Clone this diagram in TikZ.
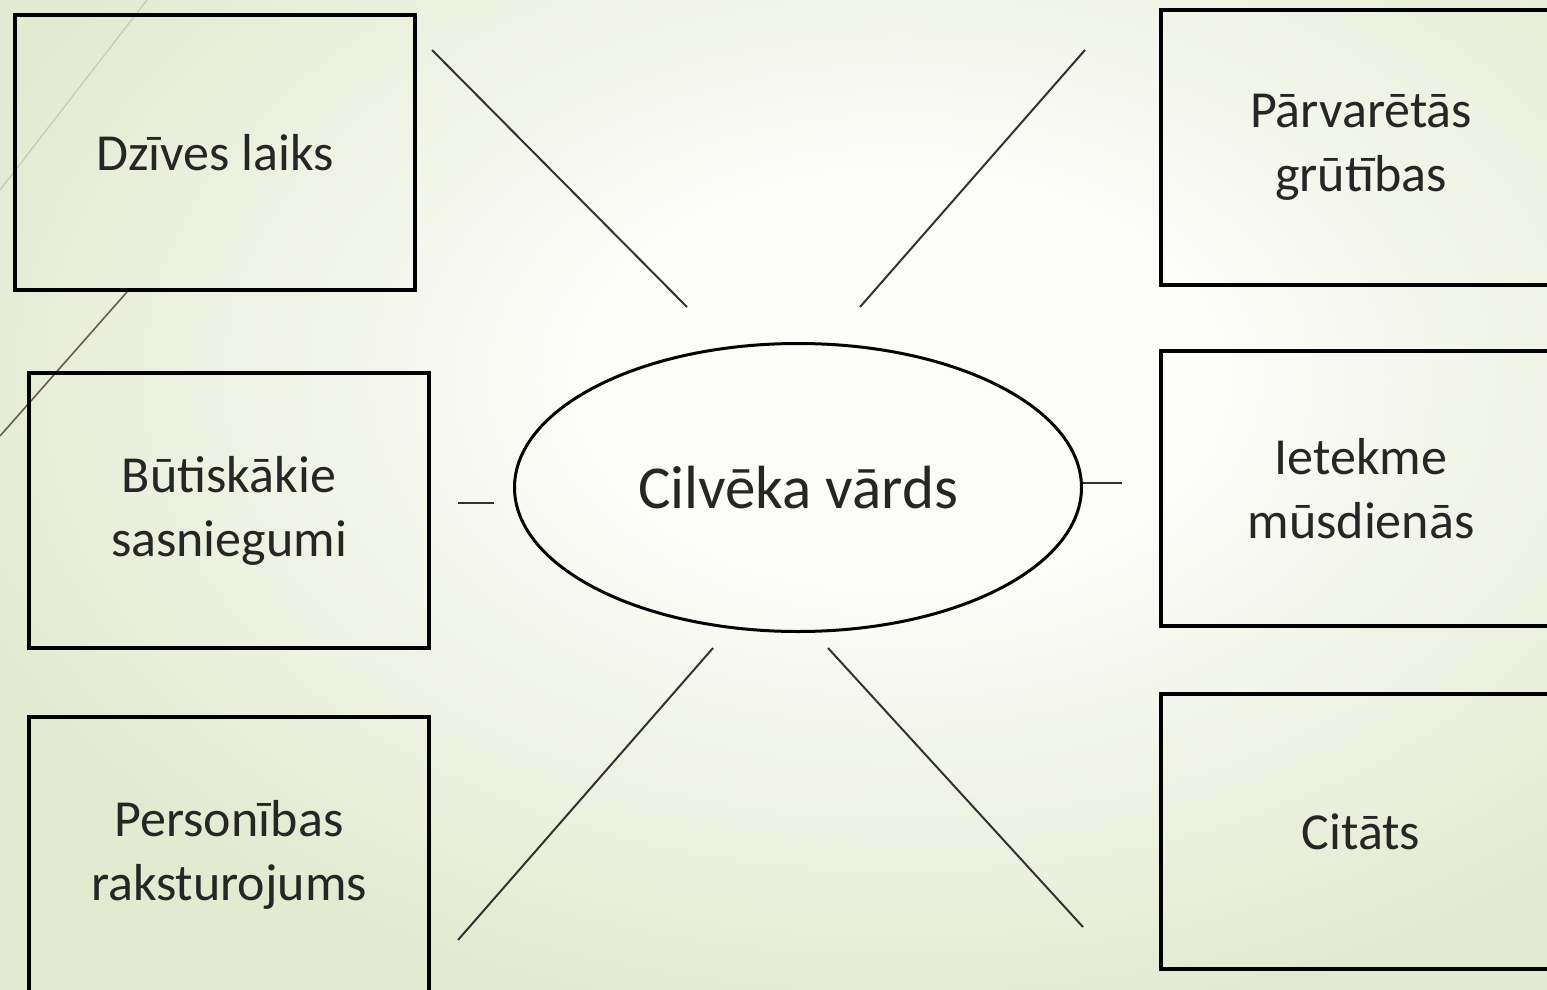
\documentclass[tikz,border=0pt]{standalone}
\usepackage{fontspec}
\setmainfont{Carlito}
\usetikzlibrary{shapes.geometric}

\definecolor{slideInner}{RGB}{252,252,249}
\definecolor{slideOuter}{RGB}{226,234,208}
\definecolor{wispLight}{RGB}{200,200,182}
\definecolor{wispDark}{RGB}{105,95,75}
\definecolor{labelText}{RGB}{38,38,38}

\pgfdeclareradialshading{slideGlow}{\pgfpoint{0bp}{0bp}}{color(0bp)=(slideInner); color(8bp)=(slideInner); color(25bp)=(slideOuter); color(50bp)=(slideOuter)}

\begin{document}
\begin{tikzpicture}[x=0.5pt,y=-0.5pt]

% Define styles
\tikzstyle{box} = [rectangle, draw=black, line width=2pt, inner sep=0pt, minimum width=200pt, minimum height=137.5pt, align=center, text=labelText, font=\fontsize{26}{32}\selectfont]
\tikzstyle{hub} = [ellipse, draw=black, line width=1.5pt, inner sep=0pt, minimum width=283.5pt, minimum height=144pt, text=labelText, font=\fontsize{30.5}{36}\selectfont]
\tikzstyle{spoke} = [draw=black!80, line width=1pt]

% Slide background
\clip (0,0) rectangle (1547,990);
\shade[shading=slideGlow] (-100,-270) rectangle (1900,1030);
\draw[wispLight, line width=0.6pt] (147,0) -- (0,190);
\draw[wispDark, line width=0.8pt] (127,292) -- (0,436);

% Define nodes (left column)
\node[box] (dzivesLaiks) at (215,152.5) {Dzīves laiks};
\node[box] (butiskakie) at (229,510.5) {Būtiskākie\\sasniegumi};
\node[box] (personibas) at (229,854.5) {Personības\\raksturojums};

% Define nodes (right column)
\node[box] (parvaretas) at (1361,147.5) {Pārvarētās\\grūtības};
\node[box] (ietekme) at (1361,488.5) {Ietekme\\mūsdienās};
\node[box] (citats) at (1361,831.5) {Citāts};

% Centre node
\node[hub] (cilvekaVards) at (798,487.5) {Cilvēka vārds};

% Spoke ends
\coordinate (tlOuter) at (432,50);
\coordinate (tlInner) at (687,307);
\coordinate (trOuter) at (1085,50);
\coordinate (trInner) at (860,307);
\coordinate (blInner) at (713,648);
\coordinate (blOuter) at (458,940);
\coordinate (brInner) at (828,648);
\coordinate (brOuter) at (1083,927);
\coordinate (lOuter) at (458,503);
\coordinate (lInner) at (494,503);
\coordinate (rOuter) at (1122,483);

% Spokes
\draw[spoke] (tlOuter) -- (tlInner);
\draw[spoke] (trOuter) -- (trInner);
\draw[spoke] (blInner) -- (blOuter);
\draw[spoke] (brInner) -- (brOuter);
\draw[spoke] (lOuter) -- (lInner);
\draw[spoke] (cilvekaVards.east |- rOuter) -- (rOuter);

\end{tikzpicture}
\end{document}
